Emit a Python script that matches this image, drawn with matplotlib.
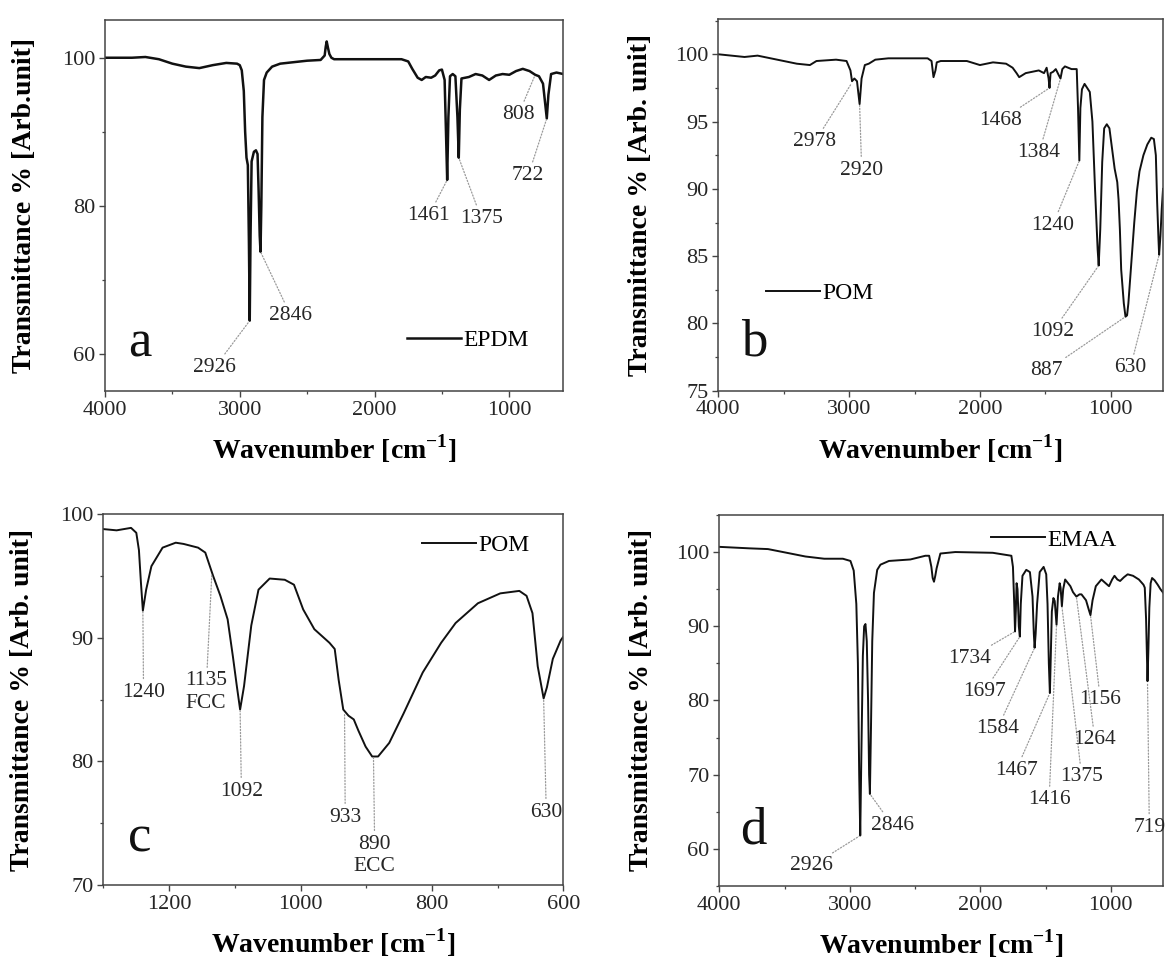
import numpy as np
import matplotlib
matplotlib.use('Agg')
import matplotlib.pyplot as plt
from matplotlib.ticker import MultipleLocator

plt.rcParams['font.family'] = ['Liberation Serif', 'DejaVu Serif']
plt.rcParams['mathtext.fontset'] = 'custom'
plt.rcParams['mathtext.rm'] = 'Liberation Serif'
plt.rcParams['mathtext.bf'] = 'Liberation Serif:bold'

# ---- spectra (wavenumber cm-1, transmittance %) ----
epdm_wn = [4000, 3800, 3700, 3600, 3500, 3400, 3300, 3200, 3100, 3020, 3000, 2985, 2970,
           2960, 2950, 2940, 2932, 2926, 2920, 2912, 2895, 2880, 2868, 2860, 2852, 2846,
           2840, 2832, 2820, 2800, 2760, 2700, 2500, 2400, 2370, 2362, 2355, 2345, 2335,
           2320, 2300, 2200, 2000, 1800, 1750, 1720, 1680, 1650, 1620, 1580, 1550, 1520,
           1500, 1480, 1470, 1461, 1452, 1440, 1420, 1400, 1385, 1375, 1367, 1355, 1300,
           1250, 1200, 1150, 1100, 1050, 1000, 950, 900, 850, 808, 780, 750, 735, 722,
           710, 690, 650, 600]
epdm_tr = [100.0, 100.0, 100.1, 99.8, 99.2, 98.8, 98.6, 99.0, 99.3, 99.2, 99.0, 98.3, 95.5,
           90.0, 86.5, 85.5, 75.0, 64.5, 76.0, 86.0, 87.3, 87.5, 87.0, 82.0, 76.0, 73.8,
           80.0, 92.0, 97.0, 98.0, 98.8, 99.2, 99.6, 99.7, 100.3, 101.5, 102.2, 101.3, 100.5,
           100.0, 99.8, 99.8, 99.8, 99.8, 99.5, 98.5, 97.3, 97.0, 97.4, 97.3, 97.6, 98.3,
           98.4, 97.0, 90.0, 83.5, 92.0, 97.5, 97.8, 97.5, 92.0, 86.5, 93.0, 97.2, 97.4,
           97.8, 97.6, 97.0, 97.6, 97.8, 97.7, 98.2, 98.5, 98.2, 97.7, 97.5, 96.5, 94.0, 91.8,
           95.0, 97.8, 98.0, 97.8]

pom_wn = [4000, 3900, 3800, 3700, 3600, 3500, 3400, 3300, 3250, 3100, 3020, 2990, 2978,
          2960, 2940, 2920, 2905, 2880, 2850, 2800, 2700, 2500, 2400, 2370, 2355, 2340,
          2330, 2300, 2200, 2100, 2000, 1900, 1800, 1750, 1720, 1700, 1650, 1600, 1550,
          1510, 1490, 1475, 1468, 1460, 1440, 1420, 1400, 1384, 1370, 1350, 1300, 1260,
          1250, 1240, 1232, 1220, 1200, 1180, 1160, 1140, 1120, 1100, 1092, 1080, 1065,
          1050, 1030, 1010, 990, 970, 950, 940, 930, 920, 900, 887, 875, 865, 850, 820,
          800, 780, 750, 720, 690, 670, 655, 645, 635, 630, 620, 610, 600]
pom_tr = [100.0, 99.9, 99.8, 99.9, 99.7, 99.5, 99.3, 99.2, 99.5, 99.6, 99.5, 98.8, 98.0,
          98.2, 98.0, 96.3, 98.2, 99.2, 99.3, 99.6, 99.7, 99.7, 99.7, 99.5, 98.3, 98.8,
          99.4, 99.5, 99.5, 99.5, 99.2, 99.4, 99.3, 99.0, 98.6, 98.3, 98.6, 98.7, 98.8,
          98.6, 99.0, 98.2, 97.5, 98.6, 98.7, 98.9, 98.5, 98.2, 98.9, 99.1, 98.9, 98.9,
          96.0, 92.1, 96.0, 97.4, 97.8, 97.5, 97.2, 95.0, 90.0, 85.5, 84.3, 87.0, 92.0,
          94.5, 94.8, 94.5, 93.0, 91.5, 90.5, 89.2, 87.0, 84.0, 81.5, 80.5, 80.6, 81.5, 83.5, 87.5,
          89.8, 91.3, 92.5, 93.3, 93.8, 93.7, 92.5, 89.0, 86.3, 85.1, 86.5, 88.5, 90.0]

pomz_wn = [1300, 1280, 1258, 1250, 1246, 1243, 1240, 1235, 1227, 1210, 1190, 1178, 1156,
           1145, 1133, 1122, 1111, 1103, 1097, 1092, 1086, 1075, 1064, 1047, 1024, 1010,
           996, 979, 956, 948, 942, 935, 927, 919, 912, 901, 891, 882, 865, 843, 814, 786,
           764, 730, 696, 667, 656, 647, 639, 630, 625, 616, 604, 600]
pomz_tr = [98.8, 98.7, 98.9, 98.5, 97.1, 94.5, 92.2, 93.9, 95.8, 97.3, 97.7, 97.6, 97.3,
           96.9, 95.0, 93.4, 91.5, 88.5, 86.1, 84.2, 86.1, 91.0, 93.9, 94.8, 94.7, 94.3,
           92.3, 90.7, 89.6, 89.1, 86.6, 84.2, 83.7, 83.4, 82.5, 81.2, 80.4, 80.4, 81.5,
           83.9, 87.2, 89.6, 91.2, 92.8, 93.6, 93.8, 93.4, 92.0, 87.7, 85.1, 86.0, 88.3, 89.8, 90.1]

emaa_wn = [4000, 3770, 3627, 3483, 3340, 3196, 3053, 2995, 2970, 2950, 2938, 2928, 2920,
           2912, 2900, 2890, 2880, 2870, 2860, 2852, 2846, 2838, 2828, 2815, 2790, 2765,
           2700, 2536, 2421, 2392, 2375, 2365, 2355, 2345, 2335, 2306, 2192, 1905, 1762,
           1750, 1740, 1734, 1728, 1722, 1715, 1705, 1697, 1690, 1677, 1648, 1620, 1600,
           1590, 1584, 1576, 1565, 1545, 1515, 1495, 1485, 1475, 1467, 1460, 1452, 1440,
           1430, 1416, 1405, 1392, 1385, 1375, 1365, 1350, 1310, 1290, 1264, 1240, 1225,
           1190, 1170, 1156, 1140, 1115, 1072, 1040, 1014, 990, 972, 950, 929, 900, 871,
           830, 785, 750, 740, 730, 719, 712, 705, 695, 684, 665, 641, 620, 598]
emaa_tr = [100.7, 100.5, 100.4, 99.9, 99.4, 99.1, 99.1, 98.8, 97.5, 93.0, 85.0, 70.0, 61.8,
           72.0, 86.0, 90.0, 90.3, 88.0, 80.0, 70.0, 67.4, 76.0, 88.0, 94.5, 97.6, 98.3,
           98.8, 99.0, 99.5, 99.5, 98.0, 96.5, 96.0, 96.8, 97.8, 99.8, 100.0, 99.9, 99.5,
           98.0, 93.0, 89.3, 92.0, 95.8, 95.0, 90.0, 88.6, 93.0, 96.8, 97.6, 97.3, 94.0,
           89.0, 87.1, 89.0, 93.0, 97.3, 98.0, 97.0, 93.0, 85.0, 81.0, 86.0, 92.0, 93.8,
           93.4, 90.2, 94.0, 95.8, 95.2, 92.7, 95.0, 96.3, 95.4, 94.6, 94.0, 94.3, 94.3,
           93.5, 92.3, 91.5, 93.5, 95.4, 96.3, 95.8, 95.4, 96.3, 96.8, 96.3, 96.1, 96.6, 97.0,
           96.8, 96.3, 95.6, 95.2, 91.0, 82.6, 87.0, 92.5, 95.8, 96.5, 96.2, 95.6, 95.0, 94.5]

# peak labels: (text, peak wavenumber, peak transmittance)
epdm_peaks = [('2926', 2926, 64.5), ('2846', 2846, 73.8), ('1461', 1461, 83.5),
              ('1375', 1375, 86.5), ('808', 808, 97.7), ('722', 722, 91.8)]
pom_peaks = [('2978', 2978, 97.9), ('2920', 2920, 96.3), ('1468', 1468, 97.5),
             ('1384', 1384, 98.2), ('1240', 1240, 92.1), ('1092', 1092, 84.3),
             ('887', 887, 80.5), ('630', 630, 85.1)]
pomz_peaks = [('1240', 1240, 92.2), ('1135\nFCC', 1135, 95.2), ('1092', 1092, 84.2),
              ('933', 933, 83.9), ('890\nECC', 889, 80.4), ('630', 630, 85.1)]
emaa_peaks = [('2926', 2920, 61.8), ('2846', 2846, 67.4), ('1734', 1734, 89.3),
              ('1697', 1697, 88.6), ('1584', 1584, 87.1), ('1467', 1467, 81.0),
              ('1416', 1416, 90.2), ('1375', 1375, 92.7), ('1264', 1264, 94.0),
              ('1156', 1156, 91.5), ('719', 719, 82.6)]

# label positions (data coords) for each peak label above
epdm_lbl = [(3185, 58.2), (2622, 65.2), (1597, 78.7), (1207, 78.3), (933, 92.3), (860, 84.1)]
pom_lbl = [(3262, 93.5), (2904, 91.4), (1841, 95.1), (1548, 92.7), (1444, 87.3),
           (1444, 79.4), (1490, 76.5), (850, 76.7)]
pomz_lbl = [(1239, 85.6), (1144, 85.6), (1090, 77.6), (932, 75.5), (887, 72.4), (626, 75.9)]
emaa_lbl = [(3291, 57.7), (2674, 63.2), (2085, 85.7), (1970, 81.2), (1869, 76.2),
            (1726, 70.6), (1473, 66.6), (1223, 69.7), (1122, 74.7), (1080, 80.1), (705, 62.9)]

TXT = '#262626'
LEAD = '#9a9a9a'

fig = plt.figure(figsize=(11.69, 9.6), dpi=100)

panels = [
    dict(rect=[0.0898, 0.5927, 0.3920, 0.3865], wn=epdm_wn, tr=epdm_tr, name='EPDM', letter='a',
         xlim=(4000, 600), ylim=(55, 105.1), xmaj=1000, ymaj=20, ymin=10,
         ylabel='Transmittance % [Arb.unit]', peaks=epdm_peaks, lbl=epdm_lbl,
         leg=(0.659, 0.137), let=(0.05, 0.092), lw=1.8),
    dict(rect=[0.6145, 0.5930, 0.3804, 0.3869], wn=pom_wn, tr=pom_tr, name='POM', letter='b',
         xlim=(4000, 600), ylim=(75, 102.6), xmaj=1000, ymaj=5, ymin=2.5,
         ylabel='Transmittance % [Arb. unit]', peaks=pom_peaks, lbl=pom_lbl,
         leg=(0.107, 0.262), let=(0.052, 0.096), lw=1.4),
    dict(rect=[0.0885, 0.0781, 0.3934, 0.3862], wn=pomz_wn, tr=pomz_tr, name='POM', letter='c',
         xlim=(1300, 600), ylim=(70, 100), xmaj=200, ymaj=10, ymin=5,
         ylabel='Transmittance % [Arb. unit]', peaks=pomz_peaks, lbl=pomz_lbl,
         leg=(0.692, 0.917), let=(0.053, 0.090), lw=1.4),
    dict(rect=[0.6153, 0.0771, 0.3796, 0.3865], wn=emaa_wn, tr=emaa_tr, name='EMAA', letter='d',
         xlim=(4000, 600), ylim=(55, 105), xmaj=1000, ymaj=10, ymin=5,
         ylabel='Transmittance % [Arb. unit]', peaks=emaa_peaks, lbl=emaa_lbl,
         leg=(0.612, 0.933), let=(0.046, 0.115), lw=1.4),
]

for p in panels:
    ax = fig.add_axes(p['rect'])
    ax.plot(p['wn'], p['tr'], color='#111111', lw=p['lw'], label=p['name'])
    ax.set_xlim(*p['xlim'])
    ax.set_ylim(*p['ylim'])
    ax.xaxis.set_major_locator(MultipleLocator(p['xmaj']))
    ax.xaxis.set_minor_locator(MultipleLocator(p['xmaj'] / 2))
    ax.yaxis.set_major_locator(MultipleLocator(p['ymaj']))
    ax.yaxis.set_minor_locator(MultipleLocator(p['ymin']))
    ax.tick_params(which='major', direction='out', length=4, width=1.0, color='#444444',
                   labelsize=16, labelcolor=TXT, pad=3)
    ax.tick_params(which='minor', direction='out', length=2.2, width=0.9, color='#444444')
    for s in ax.spines.values():
        s.set_color('#444444')
        s.set_linewidth(1.1)

    ax.set_xlabel(r'Wavenumber [cm$^{\mathbf{-1}}$]', fontsize=20, fontweight='bold')
    ax.xaxis.set_label_coords(0.5, -0.112)
    ax.set_ylabel(p['ylabel'], fontsize=20, fontweight='bold')
    ax.yaxis.set_label_coords(-0.148, 0.5)

    for (txt, px, py), (lx, ly) in zip(p['peaks'], p['lbl']):
        ax.annotate(txt, xy=(px, py), xytext=(lx, ly), ha='center', va='center',
                    fontsize=15.5, color=TXT, linespacing=1.25,
                    arrowprops=dict(arrowstyle='-', color=LEAD, lw=0.9,
                                    linestyle=(0, (1, 1.5)), shrinkA=1, shrinkB=1))

    ax.legend(loc='center left', bbox_to_anchor=p['leg'], frameon=False, fontsize=17,
              handlelength=2.3, handletextpad=0.1, borderpad=0, borderaxespad=0)
    ax.text(p['let'][0], p['let'][1], p['letter'], transform=ax.transAxes,
            fontsize=38, ha='left', va='baseline', color='#111111')

fig.savefig('out.png', dpi=100)
